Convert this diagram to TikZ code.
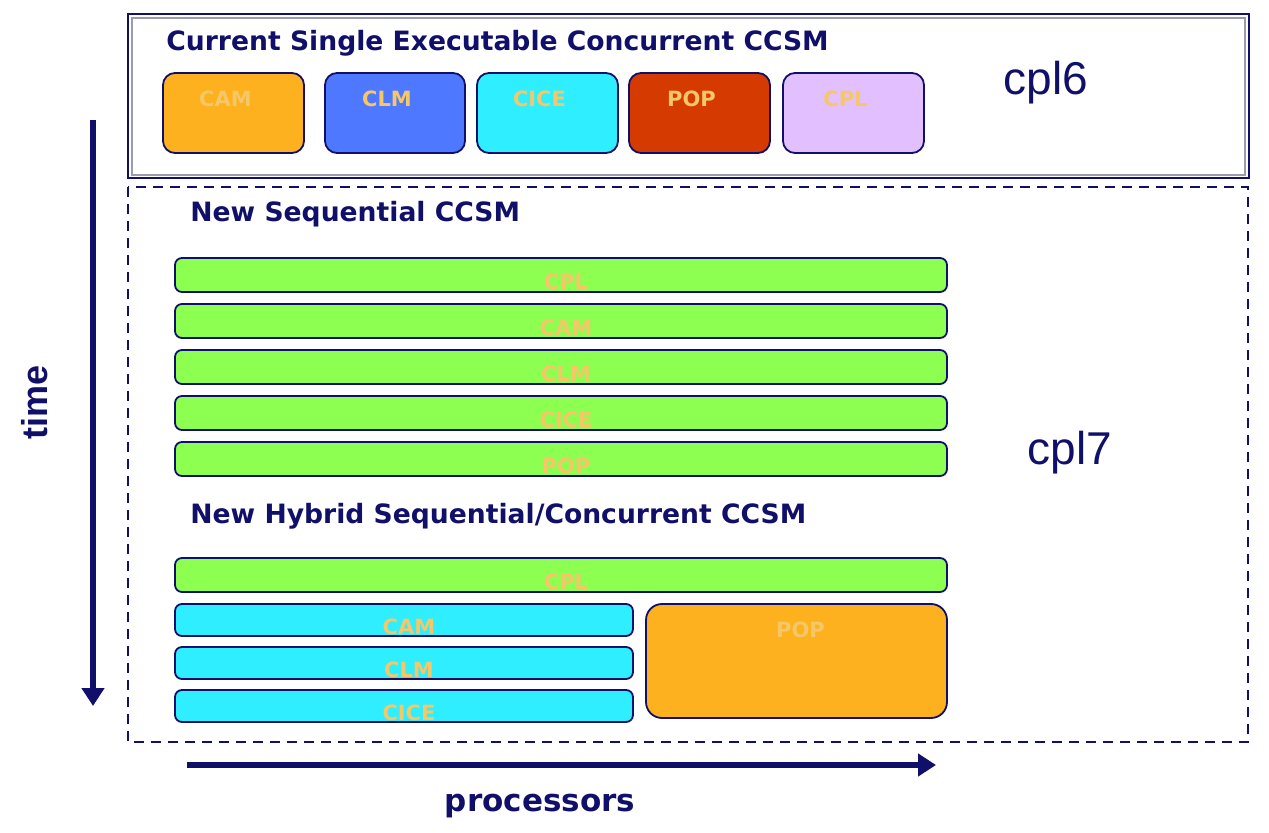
\documentclass[tikz,border=0pt]{standalone}
\usepackage{fontspec}
\setmainfont{DejaVu Sans}
\newfontfamily\arialfont{Liberation Sans}
\usetikzlibrary{arrows.meta,positioning,fit}
\definecolor{cnavy}{HTML}{10106A}
\definecolor{cshade}{HTML}{9A9AB0}
\definecolor{corange}{HTML}{FDB11E}
\definecolor{cblue}{HTML}{4E78FF}
\definecolor{ccyan}{HTML}{2EEEFF}
\definecolor{cred}{HTML}{D53A00}
\definecolor{clilac}{HTML}{E2C0FF}
\definecolor{cgreen}{HTML}{8CFF50}
\definecolor{clabel}{HTML}{F6C766}
\tikzset{
  modbox/.style  = {draw=cnavy, line width=0.9pt, rounded corners=6pt, inner sep=0pt},
  barbox/.style  = {modbox, rounded corners=3.5pt},
  modlbl/.style  = {text=clabel, font=\bfseries\fontsize{10.5}{11}\selectfont},
  toplbl/.style  = {label={[modlbl,anchor=north,xshift=-4pt,yshift=-6pt]north:#1}},
  midlbl/.style  = {label={[modlbl,xshift=2.5pt,yshift=-3.5pt]center:#1}},
  heading/.style = {text=cnavy, font=\bfseries\fontsize{13.3}{15}\selectfont, anchor=west, inner sep=0pt},
  cpltag/.style  = {text=cnavy, font=\arialfont\fontsize{23}{26}\selectfont},
  axisarrow/.style = {-{Triangle[length=9pt,width=11pt]}, line width=2.6pt, draw=cnavy},
}
\begin{document}
\begin{tikzpicture}[x=0.5pt, y=-0.5pt]
\useasboundingbox (0,0) rectangle (1269,833);
% ---- cpl6 frame ----
\draw[cshade, line width=1pt] (132,18) rectangle (1245,175);
\draw[cnavy, line width=1.4pt] (128,14) rectangle (1249,178);
\node[heading] (curtitle) at (166,43) {Current Single Executable Concurrent CCSM};
\node[modbox, fill=corange, fit={(163,73) (304,153)}, toplbl=CAM] (cam6) {};
\node[modbox, fill=cblue,   fit={(325,73) (465,153)}, toplbl=CLM] (clm6) {};
\node[modbox, fill=ccyan,   fit={(477,73) (618,153)}, toplbl=CICE] (cice6) {};
\node[modbox, fill=cred,    fit={(629,73) (770,153)}, toplbl=POP] (pop6) {};
\node[modbox, fill=clilac,  fit={(783,73) (924,153)}, toplbl=CPL] (cpl6) {};
\node[cpltag] (tag6) at (1046,83) {cpl6};
% ---- cpl7 frame ----
\draw[cnavy, line width=1.1pt, dash pattern=on 5pt off 3.5pt] (128,187) rectangle (1248,742);
\node[heading] (seqtitle) at (190,214) {New Sequential CCSM};
\foreach \name/\top in {CPL/258, CAM/304, CLM/350, CICE/396, POP/442}
  \node[barbox, fill=cgreen, fit={(175,\top) (947,\top+34)}, midlbl=\name] (seq\name) {};
\node[cpltag] (tag7) at (1070,453) {cpl7};
\node[heading] (hybtitle) at (190,516) {New Hybrid Sequential/Concurrent CCSM};
\node[barbox, fill=cgreen, fit={(175,558) (947,592)}, midlbl=CPL] (hybCPL) {};
\foreach \name/\top in {CAM/604, CLM/647, CICE/690}
  \node[barbox, fill=ccyan, fit={(175,\top) (633,\top+32)}, midlbl=\name] (hyb\name) {};
\node[modbox, rounded corners=8pt, fill=corange, fit={(646,604) (947,718)},
      label={[modlbl,anchor=north,xshift=2pt,yshift=-6pt]north:POP}] (hybPOP) {};
% ---- axes ----
\coordinate (tstart) at (93,120);
\coordinate (tend) at (93,706);
\draw[axisarrow] (tstart) -- (tend);
\node[rotate=90, text=cnavy, font=\arialfont\bfseries\fontsize{18}{20}\selectfont] (timelbl) at (35,402) {time};
\coordinate (pstart) at (187,765);
\coordinate (pend) at (936,765);
\draw[axisarrow] (pstart) -- (pend);
\node[text=cnavy, font=\bfseries\fontsize{15.5}{18}\selectfont] (proclbl) at (540,806) {processors};
\end{tikzpicture}
\end{document}
